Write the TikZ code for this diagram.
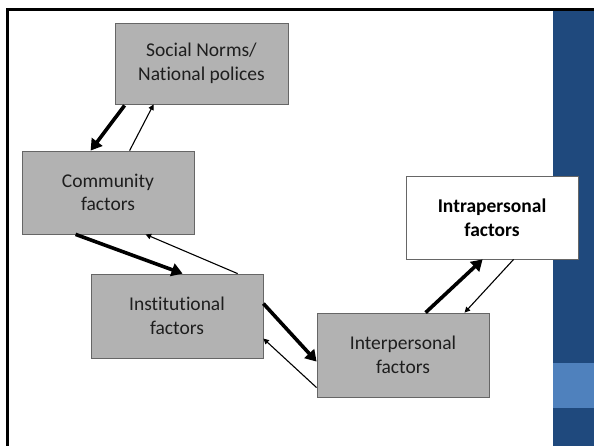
\documentclass[tikz,border=0pt]{standalone}
\usepackage{fontspec}
\setmainfont{Carlito}[Ligatures={NoCommon}]
\usetikzlibrary{arrows.meta,calc}

% soft grey fall-off towards the slide corners
\pgfdeclareradialshading{slidevignette}{\pgfpoint{0bp}{0bp}}{%
  color(0bp)=(white); color(47bp)=(white); color(60bp)=(black!5); color(71bp)=(black!14)}

\definecolor{bardark}{RGB}{31,73,125}
\definecolor{barlight}{RGB}{79,129,189}
\definecolor{boxgrey}{RGB}{178,178,178}
\definecolor{inktext}{RGB}{30,30,30}

\tikzset{
  levelbox/.style={draw=black!60, line width=0.8pt, fill=boxgrey,
    minimum width=172pt, minimum height=83pt, align=center,
    text=inktext, font=\fontsize{19.5}{23.5}\selectfont, inner sep=0pt},
  focusbox/.style={levelbox, fill=white, font=\fontsize{19.5}{23.5}\selectfont\bfseries, text=black},
  strongflow/.style={line width=3.6pt, -{Triangle[length=11pt,width=13pt]}},
  weakflow/.style={line width=1.1pt, -{Triangle[length=5.5pt,width=5.5pt]}}
}

\begin{document}
\begin{tikzpicture}[x=1pt,y=-1pt]
\useasboundingbox (0,0) rectangle (594,446);

% slide background and side bar
\shade[shading=slidevignette] (8,11) rectangle (553,446);
\fill[bardark] (553,9) rectangle (594,446);
\fill[barlight] (553,363) rectangle (594,408);
\fill[black] (6,8) rectangle (594,11);
\fill[black] (6,8) rectangle (8.5,446);

% levels of influence
\node[levelbox, minimum width=173pt, minimum height=81pt] (soc) at (201.5,63.5) {Social Norms/\\National polices};
\node[levelbox] (com) at (108,192.5) {Community\\factors};
\node[levelbox, minimum height=84pt] (ins) at (177,316) {Institutional\\factors};
\node[levelbox, minimum height=84pt] (inter) at (403,355) {Interpersonal\\factors};
\node[focusbox] (intra) at (492,217.5) {Intrapersonal\\factors};

% downward / outward flows (thick) and feedback (thin)
\draw[strongflow] ($(soc.south west)+(10,1)$) -- ($(com.north west)+(69,0)$);
\draw[weakflow]   ($(com.north west)+(108,0)$) -- ($(soc.south west)+(39,0)$);

\draw[strongflow] ($(com.south west)+(54,0)$) -- ($(ins.north west)+(92,0)$);
\draw[weakflow]   ($(ins.north west)+(147,0)$) -- ($(com.south west)+(124,0)$);

\draw[strongflow] ($(ins.north east)+(0,30)$) -- ($(inter.north west)+(0,49)$);
\draw[weakflow]   ($(inter.north west)+(0,75)$) -- ($(ins.north east)+(0,65)$);

\draw[strongflow] ($(inter.north west)+(109,0)$) -- ($(intra.south west)+(77,0)$);
\draw[weakflow]   ($(intra.south west)+(108,0)$) -- ($(inter.north west)+(148,0)$);
\end{tikzpicture}
\end{document}
